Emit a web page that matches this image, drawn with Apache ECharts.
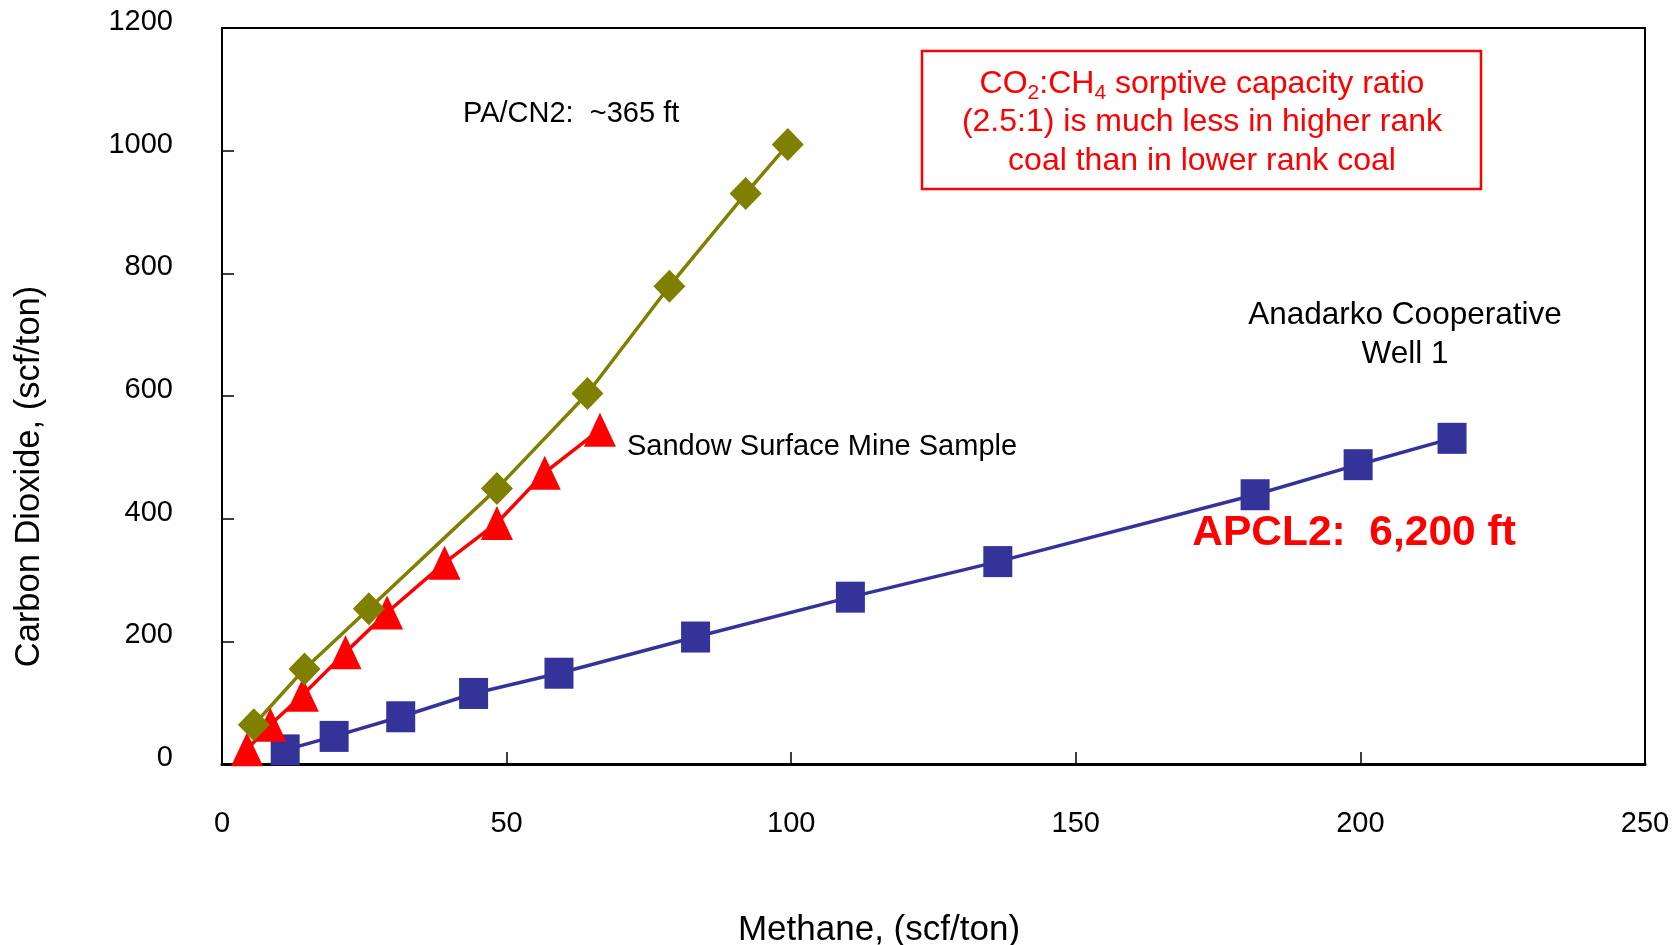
<!DOCTYPE html>
<html>
<head>
<meta charset="utf-8">
<title>CO2 vs CH4 sorption</title>
<script src="https://cdn.jsdelivr.net/npm/echarts@6/dist/echarts.min.js"></script>
<style>
    html, body { margin: 0; padding: 0; background: #fff; }
    #chart { width: 1672px; height: 945px; }
</style>
</head>
<body>
<div id="chart"></div>
<script>
    // methane (x) / carbon dioxide (y), scf/ton
    var paMethane = [5.6, 14.5, 25.8, 48.3, 64.2, 78.6, 92.0, 99.4];
    var paCO2 = [64, 155, 253, 449, 604, 779, 930, 1010];

    var sandowMethane = [4.4, 8.5, 14.2, 21.7, 29.0, 39.1, 48.3, 56.7, 66.4];
    var sandowCO2 = [24, 64, 113, 182, 247, 328, 393, 475, 545];

    var apclMethane = [11.1, 19.7, 31.4, 44.2, 59.2, 83.2, 110.4, 136.3, 181.5, 199.6, 216.1];
    var apclCO2 = [23, 45, 77, 115, 148, 207, 272, 330, 439, 488, 531];

    var xTicks = [0, 50, 100, 150, 200, 250];
    var yTicks = [0, 200, 400, 600, 800, 1000, 1200];

    function pairs(xs, ys) {
        return xs.map(function (x, i) { return [x, ys[i]]; });
    }

    var font = '"Liberation Sans", Arial, sans-serif';
    var myChart = echarts.init(document.getElementById('chart'));

    myChart.setOption({
        backgroundColor: '#ffffff',
        animation: false,
        textStyle: { fontFamily: font },
        grid: {
            left: 222, right: 27, top: 28, bottom: 181,
            show: true, borderColor: '#000', borderWidth: 2,
            containLabel: false,
            outerBoundsMode: 'none'
        },
        xAxis: {
            type: 'value',
            min: xTicks[0], max: xTicks[xTicks.length - 1], interval: 50,
            name: 'Methane, (scf/ton)',
            nameLocation: 'middle',
            nameGap: 149,
            nameTextStyle: { fontSize: 35, color: '#000', fontFamily: font, padding: [0, 109, 0, 0] },
            axisLine: { lineStyle: { color: '#000', width: 3 } },
            axisTick: { inside: true, length: 12, lineStyle: { color: '#000', width: 1.5 } },
            axisLabel: { fontSize: 29, color: '#000', margin: 45, fontFamily: font, formatter: function (v) { return String(v); } },
            splitLine: { show: false }
        },
        yAxis: {
            type: 'value',
            min: yTicks[0], max: yTicks[yTicks.length - 1], interval: 200,
            name: 'Carbon Dioxide, (scf/ton)',
            nameLocation: 'middle',
            nameGap: 175,
            nameTextStyle: { fontSize: 34.5, color: '#000', fontFamily: font, padding: [0, 161, 0, 0] },
            axisLine: { lineStyle: { color: '#000', width: 2 } },
            axisTick: { inside: true, length: 12, lineStyle: { color: '#000', width: 1.5 } },
            axisLabel: {
                fontSize: 29, color: '#000', margin: 49, fontFamily: font,
                verticalAlign: 'bottom', lineHeight: 12,
                formatter: function (v) { return String(v); }
            },
            splitLine: { show: false }
        },
        series: [
            {
                name: 'APCL2',
                type: 'line',
                data: pairs(apclMethane, apclCO2),
                symbol: 'rect',
                symbolSize: [29, 31],
                itemStyle: { color: '#333399' },
                lineStyle: { color: '#333399', width: 3.5 },
                clip: false
            },
            {
                name: 'Sandow Surface Mine Sample',
                type: 'line',
                data: pairs(sandowMethane, sandowCO2),
                symbol: 'triangle',
                symbolSize: [32, 34],
                itemStyle: { color: '#ff0000' },
                lineStyle: { color: '#ff0000', width: 3.5 },
                clip: false
            },
            {
                name: 'PA/CN2',
                type: 'line',
                data: pairs(paMethane, paCO2),
                symbol: 'diamond',
                symbolSize: [32, 33],
                itemStyle: { color: '#808000' },
                lineStyle: { color: '#808000', width: 3.5 },
                clip: false
            }
        ],
        graphic: [
            {
                type: 'text',
                style: { x: 463, y: 114, text: 'PA/CN2:  ~365 ft', font: '29px ' + font, fill: '#000', verticalAlign: 'middle' }
            },
            {
                type: 'text',
                style: { x: 627, y: 447, text: 'Sandow Surface Mine Sample', font: '29px ' + font, fill: '#000', verticalAlign: 'middle' }
            },
            {
                type: 'text',
                style: {
                    x: 1405, y: 335, text: 'Anadarko Cooperative\nWell 1',
                    font: '31.5px ' + font, fill: '#000', align: 'center', verticalAlign: 'middle', lineHeight: 38.5
                }
            },
            {
                type: 'text',
                style: {
                    x: 1354, y: 533, text: 'APCL2:  6,200 ft',
                    font: 'bold 42.5px ' + font, fill: '#ff0000', align: 'center', verticalAlign: 'middle'
                }
            },
            {
                type: 'rect',
                shape: { x: 922, y: 51, width: 559, height: 138 },
                style: { fill: '#fff', stroke: '#ff0000', lineWidth: 2.5 }
            },
            {
                type: 'text',
                style: {
                    x: 1202, y: 122.5,
                    text: '{n|CO}{s|2}{n|:CH}{s|4}{n| sorptive capacity ratio}\n{n|(2.5:1) is much less in higher rank}\n{n|coal than in lower rank coal}',
                    align: 'center', verticalAlign: 'middle',
                    fill: '#ff0000',
                    rich: {
                        n: { fontSize: 32, lineHeight: 38.5, fontFamily: font, fill: '#ff0000' },
                        s: { fontSize: 21, lineHeight: 18, fontFamily: font, fill: '#ff0000', verticalAlign: 'bottom' }
                    }
                }
            }
        ]
    });
</script>
</body>
</html>
